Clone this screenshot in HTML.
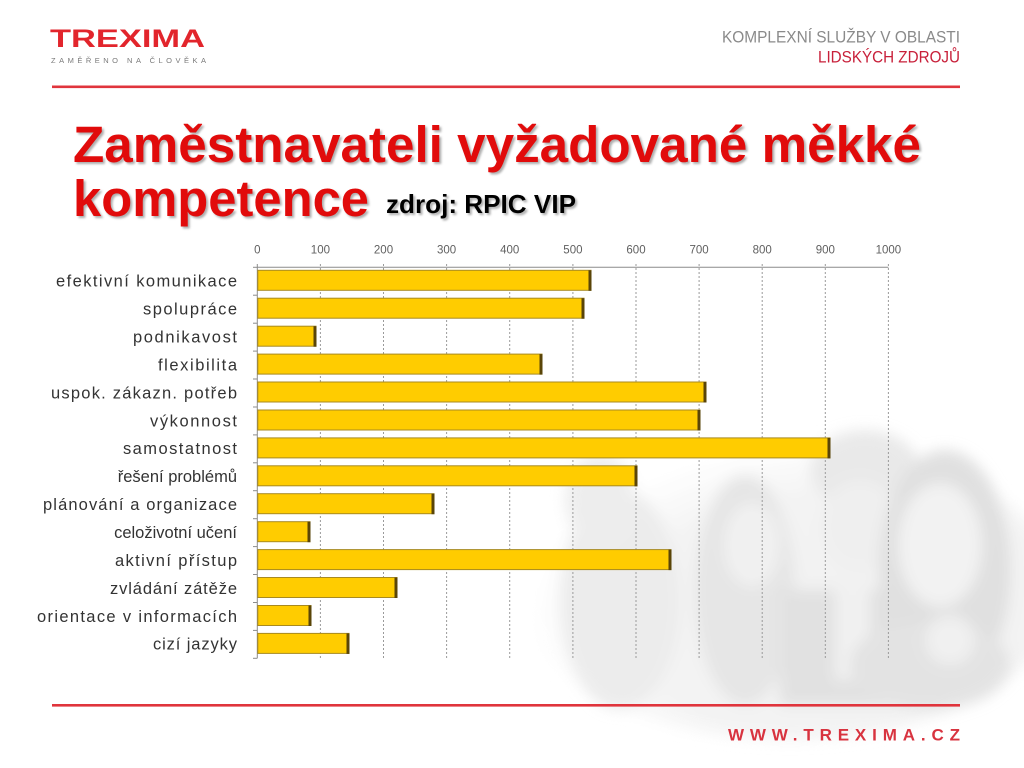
<!DOCTYPE html>
<html>
<head>
<meta charset="utf-8">
<style>
html,body{margin:0;padding:0;background:#fff;}
body{width:1024px;height:768px;overflow:hidden;}
svg{display:block;}
</style>
</head>
<body>
<svg width="1024" height="768" viewBox="0 0 1024 768" xmlns="http://www.w3.org/2000/svg" font-family="'Liberation Sans', Arial, sans-serif">
  <defs>
    <filter id="blur" x="-20%" y="-20%" width="140%" height="140%">
      <feGaussianBlur stdDeviation="7"/>
    </filter>
    <filter id="sh" x="-5%" y="-20%" width="110%" height="140%">
      <feGaussianBlur stdDeviation="1"/>
    </filter>
    <radialGradient id="bgfade" cx="0.62" cy="0.6" r="0.6">
      <stop offset="0" stop-color="#ececec"/>
      <stop offset="0.7" stop-color="#f0f0f0"/>
      <stop offset="1" stop-color="#ffffff"/>
    </radialGradient>
  </defs>

  <!-- faded photo approximation -->
  <g filter="url(#blur)" opacity="0.75">
    <ellipse cx="790" cy="590" rx="270" ry="150" fill="url(#bgfade)"/>
    <ellipse cx="620" cy="600" rx="60" ry="110" fill="#e6e6e6"/>
    <ellipse cx="600" cy="500" rx="35" ry="45" fill="#e8e8e8"/>
    <ellipse cx="745" cy="590" rx="50" ry="115" fill="#dedede"/>
    <ellipse cx="752" cy="545" rx="28" ry="42" fill="#ececec"/>
    <ellipse cx="865" cy="470" rx="55" ry="40" fill="#e2e2e2"/>
    <ellipse cx="860" cy="525" rx="40" ry="45" fill="#eaeaea"/>
    <rect x="780" y="590" width="120" height="115" fill="#d8d8d8"/>
    <rect x="835" y="590" width="35" height="90" fill="#ececec"/>
    <ellipse cx="945" cy="570" rx="66" ry="120" fill="#d6d6d6"/>
    <ellipse cx="940" cy="545" rx="42" ry="62" fill="#eeeeee"/>
    <ellipse cx="930" cy="665" rx="80" ry="45" fill="#dadada"/>
    <ellipse cx="950" cy="640" rx="25" ry="25" fill="#ebebeb"/>
  </g>

  <!-- header -->
  <text x="50" y="47" font-size="25" font-weight="bold" fill="#e2252c" textLength="155" lengthAdjust="spacingAndGlyphs">TREXIMA</text>
  <text x="51" y="63" font-size="7.5" fill="#7a7a7a" textLength="155" lengthAdjust="spacing">ZAMĚŘENO NA ČLOVĚKA</text>
  <text x="722" y="42.5" font-size="16.5" fill="#8a8a8a" textLength="238" lengthAdjust="spacingAndGlyphs">KOMPLEXNÍ SLUŽBY V OBLASTI</text>
  <text x="818" y="62.5" font-size="16.5" fill="#c8203a" textLength="142" lengthAdjust="spacingAndGlyphs">LIDSKÝCH ZDROJŮ</text>
  <rect x="52" y="85.5" width="908" height="2.6" fill="#e0343c"/>

  <!-- title -->
  <g font-weight="bold">
    <g fill="#9a9a9a" opacity="0.8" filter="url(#sh)" transform="translate(2,2)">
      <text x="73" y="162" font-size="51" textLength="848" lengthAdjust="spacingAndGlyphs">Zaměstnavateli vyžadované měkké</text>
      <text x="73" y="216" font-size="51" textLength="296" lengthAdjust="spacingAndGlyphs">kompetence</text>
      <text x="386" y="213" font-size="26" textLength="190" lengthAdjust="spacingAndGlyphs">zdroj: RPIC VIP</text>
    </g>
    <text x="73" y="162" font-size="51" fill="#e10b0b" textLength="848" lengthAdjust="spacingAndGlyphs">Zaměstnavateli vyžadované měkké</text>
    <text x="73" y="216" font-size="51" fill="#e10b0b" textLength="296" lengthAdjust="spacingAndGlyphs">kompetence</text>
    <text x="386" y="213" font-size="26" fill="#000" textLength="190" lengthAdjust="spacingAndGlyphs">zdroj: RPIC VIP</text>
  </g>

  <!-- gridlines -->
  <g stroke="#9a9a9a" stroke-width="1" stroke-dasharray="2,2">
    <line x1="320.4" y1="264" x2="320.4" y2="658"/>
    <line x1="383.5" y1="264" x2="383.5" y2="658"/>
    <line x1="446.6" y1="264" x2="446.6" y2="658"/>
    <line x1="509.7" y1="264" x2="509.7" y2="658"/>
    <line x1="572.9" y1="264" x2="572.9" y2="658"/>
    <line x1="636.0" y1="264" x2="636.0" y2="658"/>
    <line x1="699.1" y1="264" x2="699.1" y2="658"/>
    <line x1="762.2" y1="264" x2="762.2" y2="658"/>
    <line x1="825.3" y1="264" x2="825.3" y2="658"/>
    <line x1="888.4" y1="264" x2="888.4" y2="658"/>
  </g>
  <!-- axes -->
  <line x1="257.3" y1="267.3" x2="888.4" y2="267.3" stroke="#8c8c8c" stroke-width="1"/>
  <line x1="257.3" y1="264" x2="257.3" y2="658.3" stroke="#8c8c8c" stroke-width="1"/>
  <g stroke="#8c8c8c" stroke-width="1">
    <line x1="253" y1="267.3" x2="257.3" y2="267.3"/>
    <line x1="253" y1="295.2" x2="257.3" y2="295.2"/>
    <line x1="253" y1="323.2" x2="257.3" y2="323.2"/>
    <line x1="253" y1="351.1" x2="257.3" y2="351.1"/>
    <line x1="253" y1="379.0" x2="257.3" y2="379.0"/>
    <line x1="253" y1="407.0" x2="257.3" y2="407.0"/>
    <line x1="253" y1="434.9" x2="257.3" y2="434.9"/>
    <line x1="253" y1="462.8" x2="257.3" y2="462.8"/>
    <line x1="253" y1="490.7" x2="257.3" y2="490.7"/>
    <line x1="253" y1="518.7" x2="257.3" y2="518.7"/>
    <line x1="253" y1="546.6" x2="257.3" y2="546.6"/>
    <line x1="253" y1="574.5" x2="257.3" y2="574.5"/>
    <line x1="253" y1="602.5" x2="257.3" y2="602.5"/>
    <line x1="253" y1="630.4" x2="257.3" y2="630.4"/>
    <line x1="253" y1="658.3" x2="257.3" y2="658.3"/>
  </g>

  <!-- tick labels -->
  <g font-size="11.5" fill="#606060" text-anchor="middle">
    <text x="257.3" y="253.5">0</text>
    <text x="320.4" y="253.5">100</text>
    <text x="383.5" y="253.5">200</text>
    <text x="446.6" y="253.5">300</text>
    <text x="509.7" y="253.5">400</text>
    <text x="572.9" y="253.5">500</text>
    <text x="636.0" y="253.5">600</text>
    <text x="699.1" y="253.5">700</text>
    <text x="762.2" y="253.5">800</text>
    <text x="825.3" y="253.5">900</text>
    <text x="888.4" y="253.5">1000</text>
  </g>

  <!-- bars -->
  <g>
    <g fill="#ffcc00" stroke="#a88a20" stroke-width="1">
      <rect x="257.8" y="270.3" width="333.2" height="20"/>
      <rect x="257.8" y="298.2" width="326.2" height="20"/>
      <rect x="257.8" y="326.2" width="58.2" height="20"/>
      <rect x="257.8" y="354.1" width="284.2" height="20"/>
      <rect x="257.8" y="382.0" width="448.2" height="20"/>
      <rect x="257.8" y="410.0" width="442.2" height="20"/>
      <rect x="257.8" y="437.9" width="572.2" height="20"/>
      <rect x="257.8" y="465.8" width="379.2" height="20"/>
      <rect x="257.8" y="493.7" width="176.2" height="20"/>
      <rect x="257.8" y="521.7" width="52.2" height="20"/>
      <rect x="257.8" y="549.6" width="413.2" height="20"/>
      <rect x="257.8" y="577.5" width="139.2" height="20"/>
      <rect x="257.8" y="605.5" width="53.2" height="20"/>
      <rect x="257.8" y="633.4" width="91.2" height="20"/>
    </g>
    <g fill="#5a4508">
      <rect x="588.5" y="270.3" width="3" height="20.5"/>
      <rect x="581.5" y="298.2" width="3" height="20.5"/>
      <rect x="313.5" y="326.2" width="3" height="20.5"/>
      <rect x="539.5" y="354.1" width="3" height="20.5"/>
      <rect x="703.5" y="382.0" width="3" height="20.5"/>
      <rect x="697.5" y="410.0" width="3" height="20.5"/>
      <rect x="827.5" y="437.9" width="3" height="20.5"/>
      <rect x="634.5" y="465.8" width="3" height="20.5"/>
      <rect x="431.5" y="493.7" width="3" height="20.5"/>
      <rect x="307.5" y="521.7" width="3" height="20.5"/>
      <rect x="668.5" y="549.6" width="3" height="20.5"/>
      <rect x="394.5" y="577.5" width="3" height="20.5"/>
      <rect x="308.5" y="605.5" width="3" height="20.5"/>
      <rect x="346.5" y="633.4" width="3" height="20.5"/>
    </g>
  </g>

  <!-- category labels -->
  <g font-size="16.5" fill="#333" text-anchor="end">
    <text x="237" y="286.6" textLength="181" lengthAdjust="spacing">efektivní komunikace</text>
    <text x="237" y="314.5" textLength="94" lengthAdjust="spacing">spolupráce</text>
    <text x="237" y="342.5" textLength="104" lengthAdjust="spacing">podnikavost</text>
    <text x="237" y="370.4" textLength="79" lengthAdjust="spacing">flexibilita</text>
    <text x="237" y="398.3" textLength="186" lengthAdjust="spacing">uspok. zákazn. potřeb</text>
    <text x="237" y="426.3" textLength="87" lengthAdjust="spacing">výkonnost</text>
    <text x="237" y="454.2" textLength="114" lengthAdjust="spacing">samostatnost</text>
    <text x="237" y="482.1">řešení problémů</text>
    <text x="237" y="510.0" textLength="194" lengthAdjust="spacing">plánování a organizace</text>
    <text x="237" y="538.0">celoživotní učení</text>
    <text x="237" y="565.9" textLength="122" lengthAdjust="spacing">aktivní přístup</text>
    <text x="237" y="593.8" textLength="127" lengthAdjust="spacing">zvládání zátěže</text>
    <text x="237" y="621.8" textLength="200" lengthAdjust="spacing">orientace v informacích</text>
    <text x="237" y="649.7" textLength="84" lengthAdjust="spacing">cizí jazyky</text>
  </g>

  <!-- footer -->
  <rect x="52" y="704" width="908" height="2.6" fill="#e0343c"/>
  <text x="728" y="740.5" font-size="17" font-weight="bold" fill="#d8333f" textLength="232" lengthAdjust="spacing">WWW.TREXIMA.CZ</text>
</svg>
</body>
</html>
